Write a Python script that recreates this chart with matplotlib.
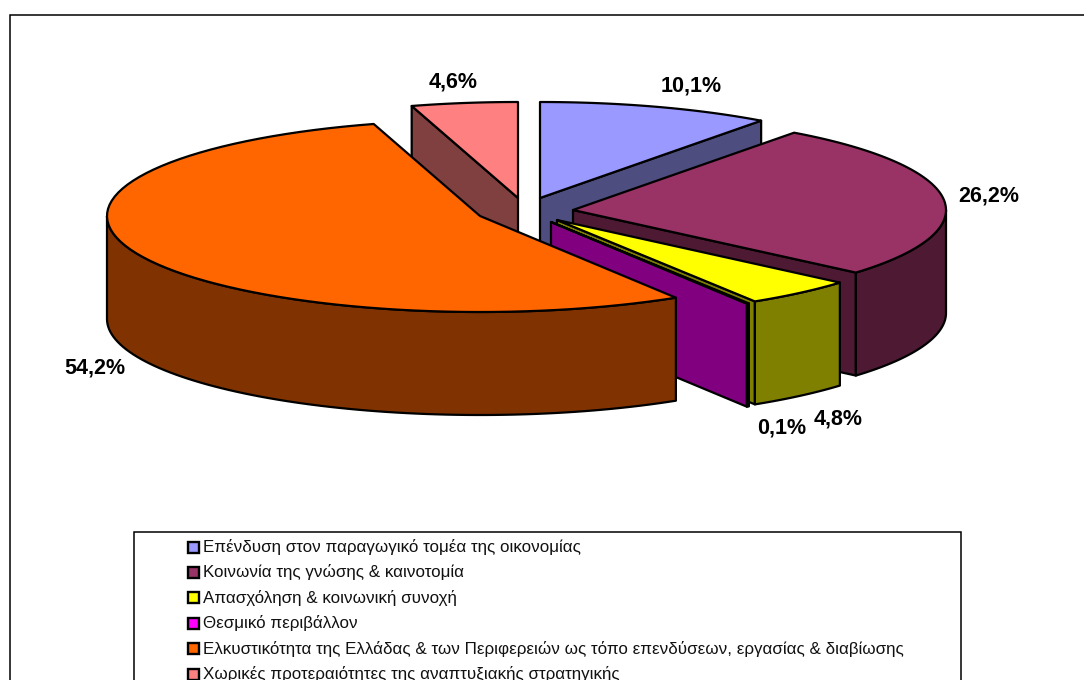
import matplotlib
matplotlib.use('Agg')
import matplotlib.pyplot as plt
from matplotlib.patches import Polygon, Rectangle
import numpy as np

categories = ['Επένδυση στον παραγωγικό τομέα της οικονομίας',
              'Κοινωνία της γνώσης & καινοτομία',
              'Απασχόληση & κοινωνική συνοχή',
              'Θεσμικό περιβάλλον',
              'Ελκυστικότητα της Ελλάδας & των Περιφερειών ως τόπο επενδύσεων, εργασίας & διαβίωσης',
              'Χωρικές προτεραιότητες της αναπτυξιακής στρατηγικής']
values = [10.1, 26.2, 4.8, 0.1, 54.2, 4.6]
top_colors = ['#9999FF', '#993366', '#FFFF00', '#FF00FF', '#FF6600', '#FF8080']
side_colors = ['#4D4D80', '#4D1933', '#808000', '#800080', '#803300', '#804040']

# pie geometry in pixels
rx, ry, depth = 373, 96, 103
apex = [(540, 198), (573, 210), (557, 220), (551, 222), (480, 216), (518, 198)]
label_pos = [(691, 86), (989, 196), (838, 419), (782, 428), (95, 368), (453, 82)]
draw_order = [5, 0, 1, 2, 3, 4]

plt.rcParams['font.family'] = ['Liberation Sans', 'DejaVu Sans']
fig = plt.figure(figsize=(10.84, 6.8), dpi=100)
ax = fig.add_axes((0, 0, 1, 1))
ax.set_xlim(0, 1084)
ax.set_ylim(680, 0)
ax.axis('off')

# outer chart frame
ax.add_patch(Rectangle((10, 15), 1084, 700, fc='white', ec='black', lw=1.1, clip_on=False))

ends = np.cumsum(values) * 3.6
starts = ends - np.array(values) * 3.6


def rim(i, a0, a1, dz=0):
    t = np.radians(np.linspace(a0, a1, 80))
    return np.column_stack((apex[i][0] + rx * np.sin(t), apex[i][1] - ry * np.cos(t) + dz))


def face(i, angle):
    p = rim(i, angle, angle)[0]
    x, y = apex[i]
    return [(x, y), p, (p[0], p[1] + depth), (x, y + depth)]


for i in draw_order:
    a0, a1 = starts[i], ends[i]
    # cut faces facing the viewer
    if np.sin(np.radians(a0)) < -1e-6:
        ax.add_patch(Polygon(face(i, a0), fc=side_colors[i], ec='black', lw=1.6, joinstyle='round'))
    if np.sin(np.radians(a1)) > 1e-6:
        ax.add_patch(Polygon(face(i, a1), fc=side_colors[i], ec='black', lw=1.6, joinstyle='round'))
    # outer wall, only the front half of the rim
    w0, w1 = max(a0, 90), min(a1, 270)
    if w1 > w0:
        up = rim(i, w0, w1)
        down = rim(i, w1, w0, depth)
        ax.add_patch(Polygon(np.vstack((up, down)), fc=side_colors[i], ec='black', lw=1.6, joinstyle='round'))
    # top
    top = np.vstack(([apex[i]], rim(i, a0, a1)))
    ax.add_patch(Polygon(top, fc=top_colors[i], ec='black', lw=1.6, joinstyle='round'))

for (x, y), v in zip(label_pos, values):
    ax.text(x, y, f'{v:.1f}%'.replace('.', ','), ha='center', va='center',
            fontsize=15.5, fontweight='bold')

# legend, cut off by the bottom of the picture in the original
ax.add_patch(Rectangle((134, 532), 827, 200, fc='white', ec='black', lw=1.1, clip_on=False))
for i, name in enumerate(categories):
    y = 547 + i * 25.4
    ax.add_patch(Rectangle((187.5, y - 5.5), 11, 11, fc=top_colors[i], ec='black', lw=1.7))
    ax.text(203, y, name, ha='left', va='center', fontsize=12.25, color='#111111')

fig.savefig('out.png', dpi=100)
